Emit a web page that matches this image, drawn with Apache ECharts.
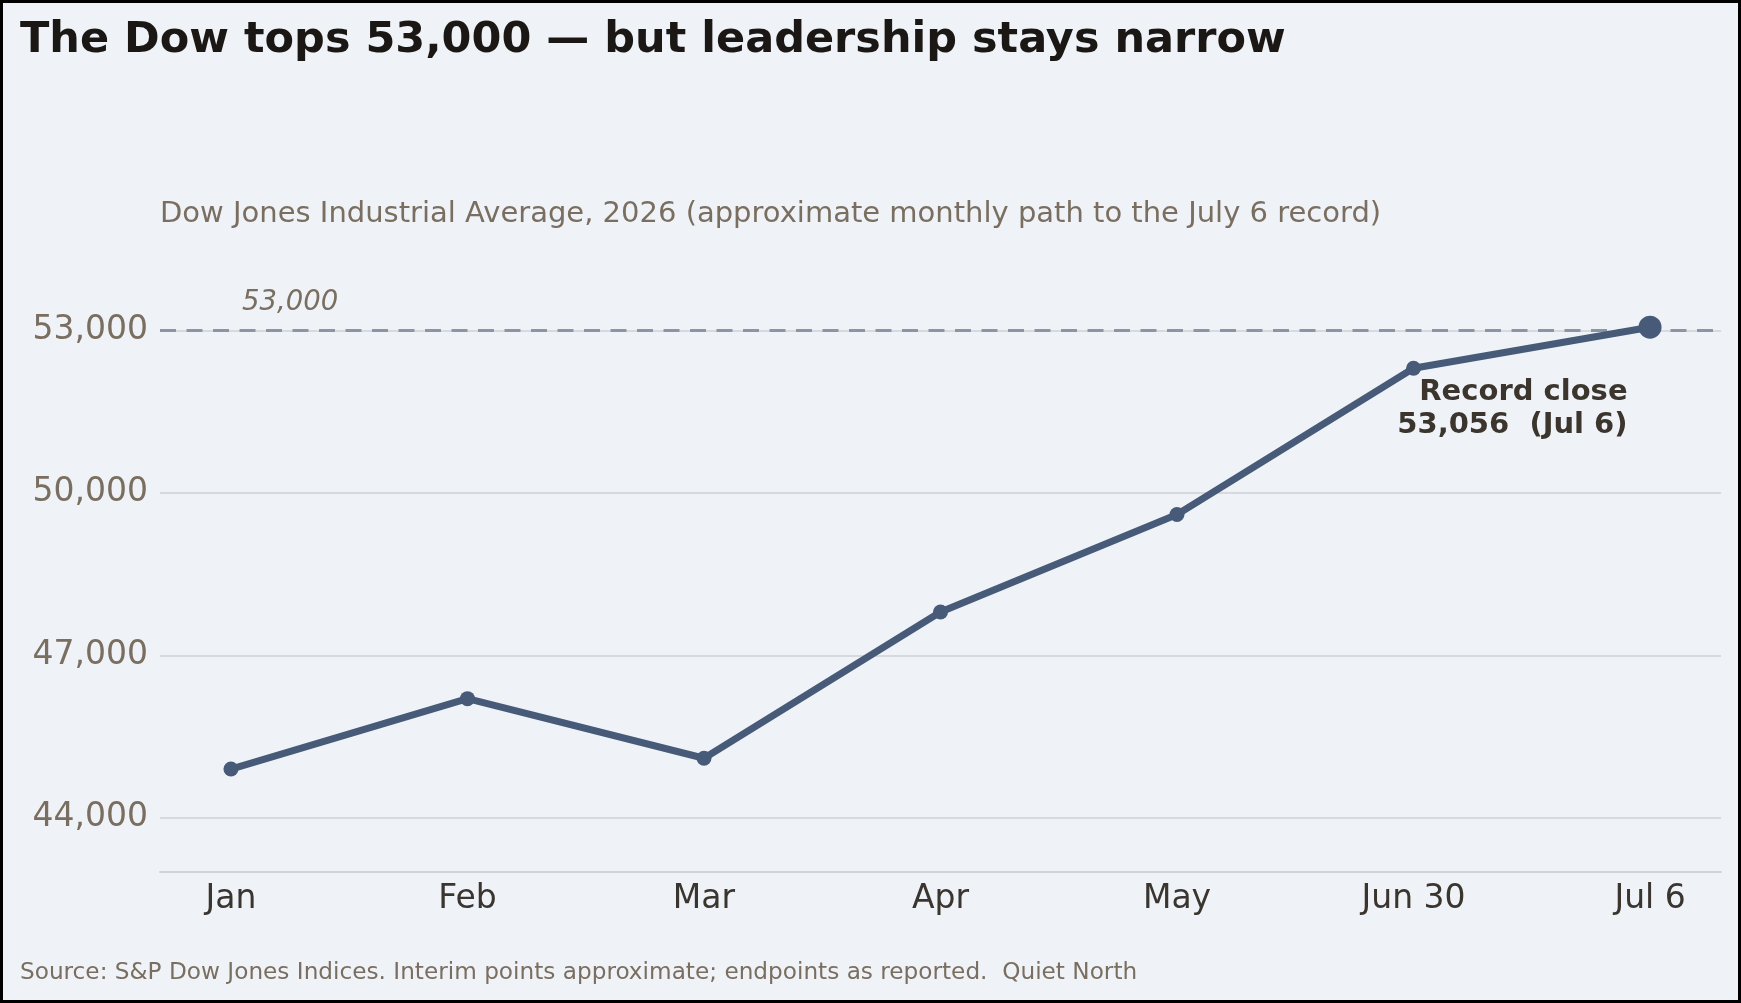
<!DOCTYPE html>
<html>
<head>
<meta charset="utf-8">
<script src="https://cdn.jsdelivr.net/npm/echarts@6/dist/echarts.min.js"></script>
<style>
html,body{margin:0;padding:0;background:#eff3f8;}
#chart{width:1741px;height:1003px;}
</style>
</head>
<body>
<div id="chart"></div>
<script>
const categories = ['Jan', 'Feb', 'Mar', 'Apr', 'May', 'Jun 30', 'Jul 6'];
const dowValues = [44900, 46200, 45100, 47800, 49600, 52300, 53056];
const yTickValues = [44000, 47000, 50000, 53000];
const thresholdValue = 53000;
const thresholdLabel = '53,000';
const recordLabel = 'Record close\n53,056  (Jul 6)';
const titleText = 'The Dow tops 53,000 \u2014 but leadership stays narrow';
const subtitleText = 'Dow Jones Industrial Average, 2026 (approximate monthly path to the July 6 record)';
const sourceText = 'Source: S&P Dow Jones Indices. Interim points approximate; endpoints as reported.  Quiet North';

const FONT = 'DejaVu Sans';
const LINE = '#475b78';
const last = dowValues.length - 1;

const seriesData = dowValues.map((v, i) => {
  if (i === last) {
    return {
      value: [i, v],
      symbolSize: 23,
      label: {
        show: true,
        formatter: recordLabel,
        position: [-11, 60],
        align: 'right',
        verticalAlign: 'top',
        fontFamily: FONT,
        fontSize: 29,
        fontWeight: 'bold',
        lineHeight: 33,
        color: '#3b352d'
      }
    };
  }
  return [i, v];
});

const chart = echarts.init(document.getElementById('chart'), null, {renderer: 'canvas'});
chart.setOption({
  backgroundColor: '#eff3f8',
  animation: false,
  title: [
    {
      text: titleText,
      left: 20,
      top: 19,
      padding: 0,
      textStyle: {fontFamily: FONT, fontSize: 43, fontWeight: 'bold', color: '#1a1714'}
    },
    {
      text: subtitleText,
      left: 160,
      top: 200,
      padding: 0,
      textStyle: {fontFamily: FONT, fontSize: 29, fontWeight: 'normal', color: '#7a6e60'}
    },
    {
      text: sourceText,
      left: 20,
      top: 961,
      padding: 0,
      textStyle: {fontFamily: FONT, fontSize: 23.2, fontWeight: 'normal', color: '#7a6e60'}
    }
  ],
  grid: {left: 160, right: 20, top: 249, bottom: 131, containLabel: false},
  xAxis: {
    type: 'value',
    min: -0.3,
    max: 6.3,
    axisLine: {show: true, lineStyle: {color: '#cfd3d9', width: 2}},
    axisTick: {show: false},
    splitLine: {show: false},
    axisLabel: {
      customValues: categories.map((c, i) => i),
      formatter: (v) => categories[Math.round(v)],
      fontFamily: FONT,
      fontSize: 33,
      color: '#3a352f',
      margin: 11
    }
  },
  yAxis: {
    type: 'value',
    min: 43000,
    max: 54500,
    axisLine: {show: false},
    axisTick: {show: false, customValues: yTickValues},
    splitLine: {show: true, lineStyle: {color: '#d6dade', width: 2}},
    axisLabel: {
      customValues: yTickValues,
      formatter: (v) => v.toLocaleString('en-US'),
      fontFamily: FONT,
      fontSize: 33,
      color: '#7a6e60',
      margin: 12,
      padding: [4, 0, 0, 0]
    }
  },
  series: [{
    type: 'line',
    data: seriesData,
    symbol: 'circle',
    symbolSize: 15,
    itemStyle: {color: LINE},
    lineStyle: {color: LINE, width: 7},
    z: 5,
    markLine: {
      silent: true,
      symbol: 'none',
      label: {show: false},
      lineStyle: {color: '#8a95a5', width: 3, type: [16, 10.5]},
      data: [{yAxis: thresholdValue}],
      z: 3
    },
    markPoint: {
      silent: true,
      symbol: 'circle',
      symbolSize: 0,
      data: [{coord: [0.25, thresholdValue]}],
      label: {
        show: true,
        position: 'top',
        distance: 14,
        formatter: thresholdLabel,
        fontFamily: FONT,
        fontStyle: 'italic',
        fontSize: 27.5,
        color: '#7a6e60'
      }
    }
  }],
  graphic: [{
    type: 'rect',
    silent: true,
    z: 100,
    shape: {x: 1.5, y: 1.5, width: 1738, height: 1000},
    style: {fill: 'none', stroke: '#000', lineWidth: 3}
  }]
});
</script>
</body>
</html>
